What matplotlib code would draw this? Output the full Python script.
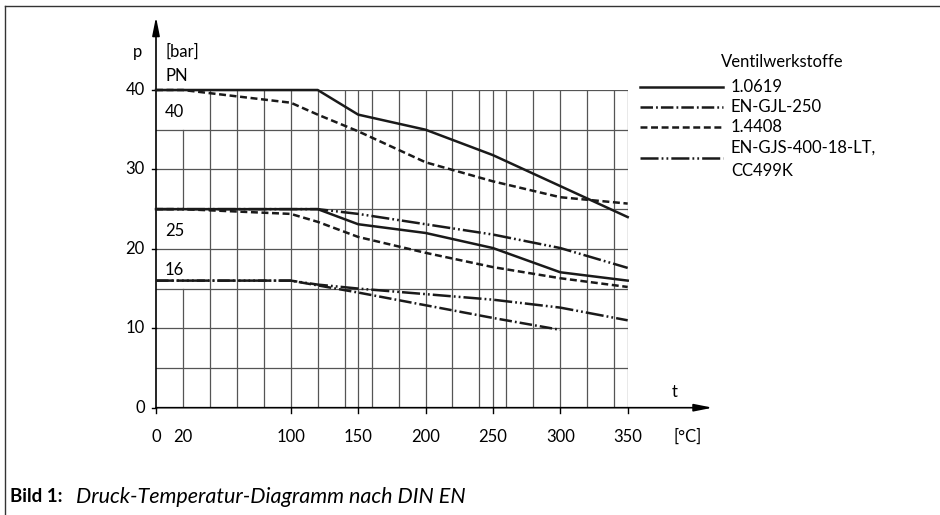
import matplotlib
matplotlib.use("Agg")
import matplotlib.pyplot as plt
from matplotlib.lines import Line2D

plt.rcParams['font.family'] = ['Lato', 'DejaVu Sans']
plt.rcParams['lines.scale_dashes'] = False

# --- data -----------------------------------------------------------------
temp_1_0619 = [0, 120, 150, 200, 250, 300, 350]
p_1_0619_pn40 = [40, 40, 36.9, 35.0, 31.8, 27.9, 24.0]
p_1_0619_pn25 = [25, 25, 23.1, 22.0, 20.1, 17.05, 16.0]

temp_1_4408 = [0, 20, 100, 120, 150, 200, 250, 300, 350]
p_1_4408_pn40 = [40, 40, 38.4, 36.9, 34.8, 30.9, 28.5, 26.5, 25.7]
p_1_4408_pn25 = [25, 25, 24.4, 23.4, 21.5, 19.5, 17.7, 16.3, 15.2]

temp_gjl = [0, 100, 150, 200, 250, 300]
p_gjl_pn16 = [16, 16, 14.5, 12.9, 11.3, 9.8]

temp_gjs = [0, 100, 120, 150, 200, 250, 300, 350]
p_gjs_pn16 = [16, 16, 15.5, 15.0, 14.3, 13.6, 12.6, 11.0]
p_gjs_pn25 = [25, 25, 25, 24.4, 23.1, 21.8, 20.1, 17.6]

x_ticks = [0, 20, 100, 150, 200, 250, 300, 350]
y_ticks = [0, 10, 20, 30, 40]
pn_labels = [("40", 37.2), ("25", 22.2), ("16", 17.3)]
legend_names = ["1.0619", "EN-GJL-250", "1.4408", "EN-GJS-400-18-LT,\nCC499K"]

# line styles (dash patterns in points)
ls_solid = dict(color='#1a1a1a', lw=1.8, linestyle='-')
ls_dash = dict(color='#1a1a1a', lw=1.8, linestyle=(0, (5, 2.6)))
ls_dashdot = dict(color='#1a1a1a', lw=1.8, linestyle=(0, (9, 2.2, 1.3, 2.2)))
ls_dashdotdot = dict(color='#1a1a1a', lw=1.8,
                     linestyle=(0, (13, 2.2, 1.3, 2.2, 1.3, 2.2)))

W, H = 940, 515
fig = plt.figure(figsize=(W / 100, H / 100), dpi=100)


def fx(px):
    return px / W


def fy(py):
    return 1 - py / H


# axes placed on the grid area (pixels: x 156..628, y 90..408)
left, right, top, bottom = 156, 627.7, 90, 407.7
ax = fig.add_axes([fx(left), fy(bottom), (right - left) / W, (bottom - top) / H])
ax.set_xlim(0, 350)
ax.set_ylim(0, 40)
ax.axis('off')

grid_kw = dict(color='#555555', lw=0.9, zorder=1)
for p in range(5, 41, 5):
    ax.plot([0, 350], [p, p], **grid_kw)
vlines = sorted(set(list(range(20, 341, 20)) + [150, 250, 350]))
for t in vlines:
    if t == 20:
        # gaps where the PN labels sit
        ax.plot([t, t], [0, 15], **grid_kw)
        ax.plot([t, t], [25, 35], **grid_kw)
    else:
        ax.plot([t, t], [0, 40], **grid_kw)

# axes with arrows
ax.annotate('', xy=(413, 0), xytext=(0, 0), annotation_clip=False,
            arrowprops=dict(arrowstyle='-|>,head_length=1.1,head_width=0.22',
                            color='black', lw=1.2, shrinkA=0, shrinkB=0))
ax.annotate('', xy=(0, 49.2), xytext=(0, 0), annotation_clip=False,
            arrowprops=dict(arrowstyle='-|>,head_length=1.1,head_width=0.22',
                            color='black', lw=1.2, shrinkA=0, shrinkB=0))

# ticks
for t in [0, 100, 150, 200, 250, 300, 350]:
    ax.plot([t, t], [0, -0.7], color='black', lw=1.0, clip_on=False)
for p in y_ticks:
    ax.plot([0, -3.2], [p, p], color='black', lw=1.0, clip_on=False)

fs = 12
for t in x_ticks:
    ax.text(t, -3.7, str(t), ha='center', va='center', fontsize=fs)
for p in y_ticks:
    ax.text(-8.3, p, str(p), ha='right', va='center', fontsize=fs)
ax.text(394.5, -3.7, '[°C]', ha='center', va='center', fontsize=fs)
ax.text(384.5, 2.0, 't', ha='center', va='center', fontsize=fs)
ax.text(-14, 44.8, 'p', ha='center', va='center', fontsize=fs)
ax.text(6.7, 44.8, '[bar]', ha='left', va='center', fontsize=fs)
ax.text(6.7, 41.8, 'PN', ha='left', va='center', fontsize=fs)
for lab, p in pn_labels:
    ax.text(6.7, p, lab, ha='left', va='center', fontsize=fs)

# curves
curve_kw = dict(zorder=3, clip_on=False)
ax.plot(temp_1_0619, p_1_0619_pn40, **curve_kw, **ls_solid)
ax.plot(temp_1_0619, p_1_0619_pn25, **curve_kw, **ls_solid)
ax.plot(temp_1_4408, p_1_4408_pn40, **curve_kw, **ls_dash)
ax.plot(temp_1_4408, p_1_4408_pn25, **curve_kw, **ls_dash)
ax.plot(temp_gjl, p_gjl_pn16, **curve_kw, **ls_dashdot)
ax.plot(temp_gjs, p_gjs_pn16, **curve_kw, **ls_dashdotdot)
ax.plot(temp_gjs, p_gjs_pn25, **curve_kw, **ls_dashdotdot)

# legend
fig.text(fx(721), fy(62), 'Ventilwerkstoffe', ha='left', va='center', fontsize=fs)
leg_y = [87, 107, 127, 158]
leg_styles = [ls_solid, ls_dashdot, ls_dash, ls_dashdotdot]
for name, y, st in zip(legend_names, leg_y, leg_styles):
    fig.add_artist(Line2D([fx(640), fx(723)], [fy(y), fy(y)],
                          transform=fig.transFigure, **st))
    if '\n' in name:
        l1, l2 = name.split('\n')
        fig.text(fx(731), fy(148), l1, ha='left', va='center', fontsize=fs)
        fig.text(fx(731), fy(171), l2, ha='left', va='center', fontsize=fs)
    else:
        fig.text(fx(731), fy(y), name, ha='left', va='center', fontsize=fs)

# frame
fig.add_artist(Line2D([fx(5), fx(940)], [fy(5.5), fy(5.5)],
                      transform=fig.transFigure, color='#333333', lw=1.0))
fig.add_artist(Line2D([fx(5), fx(5)], [fy(5.5), fy(515)],
                      transform=fig.transFigure, color='#333333', lw=1.0))

# caption
fig.text(fx(10), fy(497), 'Bild 1:', ha='left', va='center', fontsize=13.5,
         fontweight='bold')
fig.text(fx(76), fy(497), 'Druck-Temperatur-Diagramm nach DIN EN', ha='left',
         va='center', fontsize=15.5, style='italic')

fig.savefig('out.png', dpi=100)
